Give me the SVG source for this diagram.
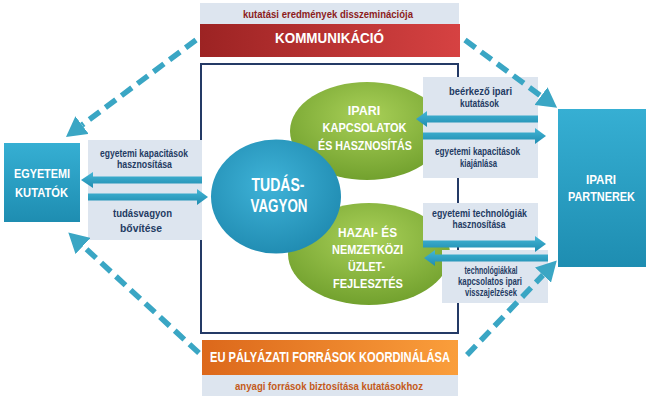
<svg xmlns="http://www.w3.org/2000/svg" width="650" height="402" viewBox="0 0 650 402">
<defs>
<linearGradient id="teal" x1="0" y1="0" x2="0" y2="1"><stop offset="0" stop-color="#36afd3"/><stop offset="1" stop-color="#1e8db1"/></linearGradient>
<linearGradient id="red" x1="0" y1="0" x2="1" y2="0"><stop offset="0" stop-color="#9c2323"/><stop offset="1" stop-color="#d64242"/></linearGradient>
<linearGradient id="orange" x1="0" y1="0" x2="1" y2="0"><stop offset="0" stop-color="#dc681b"/><stop offset="1" stop-color="#fa9e3b"/></linearGradient>
<radialGradient id="green" cx="0.5" cy="0.35" r="0.65"><stop offset="0" stop-color="#a9d058"/><stop offset="1" stop-color="#72a12e"/></radialGradient>
<radialGradient id="blue" cx="0.45" cy="0.4" r="0.65"><stop offset="0" stop-color="#3fb3d8"/><stop offset="1" stop-color="#1f8ab0"/></radialGradient>
<linearGradient id="arr" x1="0" y1="0" x2="0" y2="1"><stop offset="0" stop-color="#44b6d6"/><stop offset="1" stop-color="#1f8cb0"/></linearGradient>
<marker id="dh" markerUnits="userSpaceOnUse" markerWidth="20" markerHeight="22" viewBox="0 0 20 22" refX="0" refY="11" orient="auto"><path d="M0,0 L20,11 L0,22 Z" fill="#3aa6c4"/></marker>
</defs>
<style>
text{font-family:"Liberation Sans Narrow","Liberation Sans",Arial,sans-serif;font-weight:bold;text-anchor:middle}
.lbl{font-size:11px;fill:#1f3b63}
.sm{font-size:10px;fill:#1f3b63}
.w{fill:#ffffff}
.light{fill:#dde5ef}
.dash{fill:none;stroke:#3aa6c4;stroke-width:5.5;stroke-dasharray:13 7;marker-end:url(#dh)}
.sa{fill:url(#arr)}
</style>
<rect width="650" height="402" fill="#ffffff"/>

<g id="frame"><rect x="201" y="64" width="257" height="269" fill="#ffffff" stroke="#243a66" stroke-width="2"/></g>

<g id="kommunikacio">
<rect x="200" y="3" width="259" height="21" class="light"/>
<text x="328" y="18" font-size="11" fill="#8c1c1c" textLength="170" lengthAdjust="spacingAndGlyphs">kutatási eredmények disszeminációja</text>
<rect x="200" y="24" width="260" height="33" fill="url(#red)"/>
<text x="329.5" y="42.5" font-size="15" class="w" textLength="109" lengthAdjust="spacingAndGlyphs">KOMMUNIKÁCIÓ</text>
</g>

<g id="eu-palyazat">
<rect x="202" y="340" width="256" height="35" fill="url(#orange)"/>
<text x="330" y="362" font-size="14" class="w" textLength="240" lengthAdjust="spacingAndGlyphs">EU PÁLYÁZATI FORRÁSOK KOORDINÁLÁSA</text>
<rect x="202" y="375" width="256" height="21" class="light"/>
<text x="329" y="390" font-size="11" fill="#c45a1a" textLength="188" lengthAdjust="spacingAndGlyphs">anyagi források biztosítása kutatásokhoz</text>
</g>

<g id="egyetemi-kutatok">
<rect x="4" y="143" width="76" height="79" fill="url(#teal)"/>
<text x="42" y="177.5" font-size="13" class="w" textLength="56" lengthAdjust="spacingAndGlyphs">EGYETEMI</text>
<text x="41.5" y="197" font-size="13" class="w" textLength="53" lengthAdjust="spacingAndGlyphs">KUTATÓK</text>
</g>

<g id="ipari-partnerek">
<rect x="558" y="109" width="88" height="158" fill="url(#teal)"/>
<text x="601" y="184" font-size="13" class="w" textLength="30" lengthAdjust="spacingAndGlyphs">IPARI</text>
<text x="601.5" y="201" font-size="13" class="w" textLength="67" lengthAdjust="spacingAndGlyphs">PARTNEREK</text>
</g>

<g id="ipari-kapcsolatok">
<ellipse cx="367" cy="131" rx="77" ry="49" fill="url(#green)"/>
<text x="364" y="115" font-size="12.5" class="w">IPARI</text>
<text x="364.5" y="132" font-size="12.5" class="w" textLength="84" lengthAdjust="spacingAndGlyphs">KAPCSOLATOK</text>
<text x="365" y="150" font-size="12.5" class="w" textLength="94" lengthAdjust="spacingAndGlyphs">ÉS HASZNOSÍTÁS</text>
</g>

<g id="uzletfejlesztes">
<ellipse cx="369" cy="254" rx="81" ry="51" fill="url(#green)"/>
<text x="367.5" y="237" font-size="12.5" class="w" textLength="59" lengthAdjust="spacingAndGlyphs">HAZAI- ÉS</text>
<text x="367.5" y="254" font-size="12.5" class="w" textLength="71" lengthAdjust="spacingAndGlyphs">NEMZETKÖZI</text>
<text x="366.5" y="271" font-size="12.5" class="w" textLength="37" lengthAdjust="spacingAndGlyphs">ÜZLET-</text>
<text x="368" y="288" font-size="12.5" class="w" textLength="70" lengthAdjust="spacingAndGlyphs">FEJLESZTÉS</text>
</g>

<g id="label-boxes">
<rect x="88" y="140" width="114" height="100" class="light"/>
<rect x="423" y="77" width="115" height="101" class="light"/>
<rect x="423" y="203" width="115" height="40" class="light"/>
<rect x="442" y="250" width="106" height="53" class="light"/>
</g>

<g id="tudasvagyon">
<ellipse cx="276" cy="196.5" rx="65" ry="57" fill="url(#blue)"/>
<text x="278" y="191" font-size="17.5" class="w" textLength="53" lengthAdjust="spacingAndGlyphs">TUDÁS-</text>
<text x="279" y="212" font-size="17.5" class="w" textLength="57" lengthAdjust="spacingAndGlyphs">VAGYON</text>
</g>

<g id="connectors">
<path class="dash" d="M196,40 L82,125"/>
<path class="dash" d="M465,40 L541,96"/>
<path class="dash" d="M199,353 L83,246"/>
<path class="dash" d="M467,355 L543,275"/>
<path class="sa" d="M202,176.5 L93,176.5 L93,172 L81,180 L93,188 L93,183.5 L202,183.5 Z"/>
<path class="sa" d="M88,193.5 L197,193.5 L197,189 L208,197 L197,205 L197,200.5 L88,200.5 Z"/>
<path class="sa" d="M538,115.5 L427,115.5 L427,111 L416,119 L427,127 L427,122.5 L538,122.5 Z"/>
<path class="sa" d="M423,132.5 L535,132.5 L535,128 L546,136 L535,144 L535,139.5 L423,139.5 Z"/>
<path class="sa" d="M423,240.5 L535,240.5 L535,236 L546,244 L535,252 L535,247.5 L423,247.5 Z"/>
<path class="sa" d="M548,254.5 L435,254.5 L435,250 L424,258 L435,266 L435,261.5 L548,261.5 Z"/>
<text class="lbl" x="144" y="157" textLength="88" lengthAdjust="spacingAndGlyphs">egyetemi kapacitások</text>
<text class="lbl" x="144.5" y="168" textLength="55" lengthAdjust="spacingAndGlyphs">hasznosítása</text>
<text class="lbl" x="142.5" y="217" textLength="59" lengthAdjust="spacingAndGlyphs">tudásvagyon</text>
<text class="lbl" x="141" y="232" textLength="42" lengthAdjust="spacingAndGlyphs">bővítése</text>
<text class="lbl" x="480.5" y="95" textLength="63" lengthAdjust="spacingAndGlyphs">beérkező ipari</text>
<text class="lbl" x="479.5" y="107" textLength="39" lengthAdjust="spacingAndGlyphs">kutatások</text>
<text class="lbl" x="477.5" y="155" textLength="85" lengthAdjust="spacingAndGlyphs">egyetemi kapacitások</text>
<text class="lbl" x="478.5" y="167" textLength="37" lengthAdjust="spacingAndGlyphs">kiajánlása</text>
<text class="lbl" x="479.5" y="217" textLength="95" lengthAdjust="spacingAndGlyphs">egyetemi technológiák</text>
<text class="lbl" x="479" y="228" textLength="53" lengthAdjust="spacingAndGlyphs">hasznosítása</text>
<text class="sm" x="491" y="274" textLength="53" lengthAdjust="spacingAndGlyphs">technológiákkal</text>
<text class="sm" x="490" y="285" textLength="64" lengthAdjust="spacingAndGlyphs">kapcsolatos ipari</text>
<text class="sm" x="491" y="296" textLength="52" lengthAdjust="spacingAndGlyphs">visszajelzések</text>
</g>
</svg>
